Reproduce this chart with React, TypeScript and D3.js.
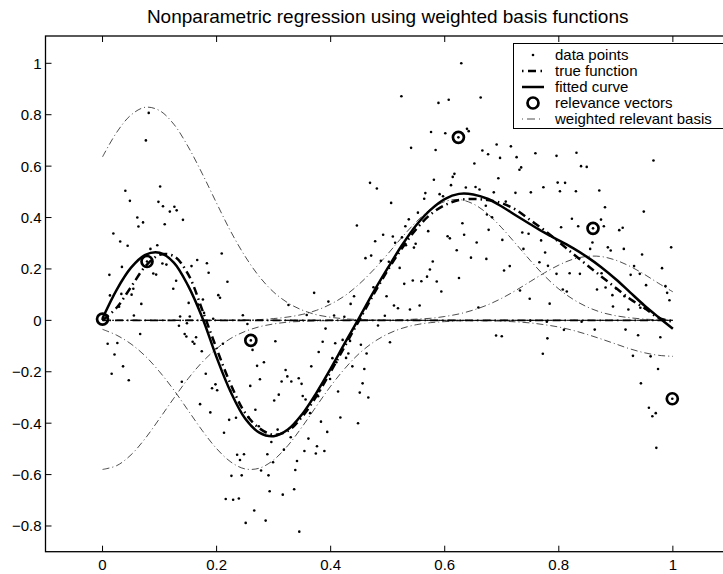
import React from "react";
import * as d3 from "d3";

const titleText = "Nonparametric regression using weighted basis functions";
const xTicks = [0, 0.2, 0.4, 0.6, 0.8, 1];
const yTicks = [-0.8, -0.6, -0.4, -0.2, 0, 0.2, 0.4, 0.6, 0.8, 1];

const gridX = [0, 0.025, 0.05, 0.075, 0.1, 0.125, 0.15, 0.175, 0.2, 0.225, 0.25, 0.275, 0.3, 0.325, 0.35, 0.375, 0.4, 0.425, 0.45, 0.475, 0.5, 0.525, 0.55, 0.575, 0.6, 0.625, 0.65, 0.675, 0.7, 0.725, 0.75, 0.775, 0.8, 0.825, 0.85, 0.875, 0.9, 0.925, 0.95, 0.975, 1];

const fittedY = [0.008, 0.12, 0.205, 0.255, 0.263, 0.225, 0.135, 0.01, -0.144, -0.28, -0.382, -0.437, -0.451, -0.425, -0.365, -0.282, -0.188, -0.088, 0.01, 0.11, 0.203, 0.292, 0.37, 0.43, 0.472, 0.492, 0.49, 0.473, 0.443, 0.408, 0.374, 0.341, 0.311, 0.281, 0.246, 0.206, 0.16, 0.109, 0.058, 0.012, -0.033];

const trueY = [0, 0.05, 0.13, 0.21, 0.255, 0.25, 0.18, 0.04, -0.11, -0.25, -0.36, -0.42, -0.445, -0.43, -0.375, -0.295, -0.2, -0.1, 0, 0.1, 0.195, 0.28, 0.355, 0.412, 0.448, 0.468, 0.472, 0.468, 0.456, 0.43, 0.39, 0.35, 0.305, 0.259, 0.214, 0.17, 0.126, 0.083, 0.048, 0.01, -0.005];

const basis0Y = [-0.58, -0.565, -0.523, -0.459, -0.382, -0.303, -0.227, -0.162, -0.11, -0.07, -0.043, -0.025, -0.014, -0.007, -0.004, -0.002, -0.001, 0, 0, 0, 0, 0, 0, 0, 0, 0, 0, 0, 0, 0, 0, 0, 0, 0, 0, 0, 0, 0, 0, 0, 0];
const basis1Y = [0.636, 0.732, 0.799, 0.829, 0.816, 0.763, 0.676, 0.57, 0.456, 0.345, 0.249, 0.17, 0.11, 0.068, 0.04, 0.022, 0.012, 0.006, 0.003, 0.001, 0, 0, 0, 0, 0, 0, 0, 0, 0, 0, 0, 0, 0, 0, 0, 0, 0, 0, 0, 0, 0];
const basis2Y = [-0.035, -0.058, -0.092, -0.139, -0.2, -0.271, -0.35, -0.429, -0.499, -0.551, -0.578, -0.575, -0.543, -0.487, -0.414, -0.334, -0.256, -0.187, -0.129, -0.085, -0.053, -0.031, -0.017, -0.009, -0.005, -0.002, -0.001, 0, 0, 0, 0, 0, 0, 0, 0, 0, 0, 0, 0, 0, 0];
const basis3Y = [0, 0, 0, 0, 0, 0, 0, 0, 0, 0.001, 0.002, 0.003, 0.007, 0.013, 0.023, 0.039, 0.063, 0.096, 0.141, 0.196, 0.258, 0.323, 0.383, 0.432, 0.462, 0.47, 0.453, 0.415, 0.36, 0.297, 0.233, 0.173, 0.122, 0.082, 0.052, 0.031, 0.018, 0.01, 0.005, 0.002, 0.001];
const basis4Y = [0, 0, 0, 0, 0, 0, 0, 0, 0, 0, 0, 0, 0, 0, 0, 0, 0, 0, 0, 0.001, 0.001, 0.002, 0.005, 0.008, 0.015, 0.025, 0.04, 0.06, 0.086, 0.117, 0.151, 0.185, 0.215, 0.238, 0.249, 0.248, 0.234, 0.21, 0.179, 0.144, 0.111];
const basis5Y = [0, 0, 0, 0, 0, 0, 0, 0, 0, 0, 0, 0, 0, 0, 0, 0, 0, 0, 0, 0, 0, 0, 0, 0, 0, 0, -0.001, -0.002, -0.003, -0.006, -0.01, -0.017, -0.026, -0.039, -0.055, -0.073, -0.092, -0.111, -0.126, -0.136, -0.14];

const zeroLineX = [0, 1];
const zeroLineY = [0, 0];

const rvX = [0, 0.078, 0.26, 0.624, 0.86, 0.999];
const rvY = [0.005, 0.229, -0.078, 0.712, 0.358, -0.305];

const dataX = [0.081, 0.076, 0.101, 0.04, 0.048, 0.098, 0.106, 0.126, 0.13, 0.118, 0.141, 0.061, 0.071, 0.063, 0.109, 0.019, 0.031, 0.044, 0.096, 0.084,
  0.209, 0.166, 0.183, 0.156, 0.034, 0.105, 0.112, 0.186, 0.089, 0.094, 0.012, 0.129, 0.219, 0.054, 0.124, 0.051, 0.013, 0.033, 0.203, 0.206,
  0.176, 0.151, 0.068, 0.168, 0.029, 0.178, 0.055, 0.136, 0.153, 0.194, 0.246, 0.148, 0.134, 0.254, 0.066, 0.144, 0.147, 0.164, 0.158, 0.161,
  0.009, 0.026, 0.211, 0.303, 0.263, 0.021, 0.174, 0.283, 0.271, 0.036, 0.016, 0.181, 0.276, 0.046, 0.139, 0.198, 0.192, 0.201, 0.259, 0.224,
  0.309, 0.301, 0.171, 0.268, 0.189, 0.234, 0.222, 0.256, 0.274, 0.213, 0.307, 0.296, 0.289, 0.236, 0.248, 0.241, 0.299, 0.278, 0.226, 0.244,
  0.291, 0.293, 0.216, 0.229, 0.239, 0.266, 0.251, 0.286, 0.629, 0.524, 0.589, 0.607, 0.663, 0.576, 0.601, 0.639, 0.642, 0.541, 0.584, 0.666,
  0.676, 0.652, 0.617, 0.614, 0.581, 0.469, 0.481, 0.611, 0.637, 0.654, 0.661, 0.566, 0.564, 0.591, 0.597, 0.506, 0.674, 0.672, 0.553, 0.631,
  0.446, 0.677, 0.531, 0.537, 0.571, 0.492, 0.509, 0.525, 0.605, 0.609, 0.634, 0.478, 0.513, 0.532, 0.549, 0.546, 0.656, 0.621, 0.471, 0.461,
  0.646, 0.488, 0.502, 0.579, 0.521, 0.574, 0.569, 0.559, 0.544, 0.586, 0.625, 0.529, 0.475, 0.594, 0.371, 0.396, 0.435, 0.441, 0.498, 0.326,
  0.511, 0.518, 0.539, 0.556, 0.659, 0.358, 0.406, 0.424, 0.495, 0.391, 0.483, 0.386, 0.408, 0.421, 0.434, 0.504, 0.453, 0.379, 0.463, 0.431,
  0.427, 0.403, 0.41, 0.366, 0.438, 0.459, 0.321, 0.324, 0.314, 0.331, 0.344, 0.349, 0.399, 0.456, 0.351, 0.356, 0.38, 0.378, 0.451, 0.466,
  0.413, 0.364, 0.417, 0.383, 0.448, 0.394, 0.361, 0.33, 0.376, 0.354, 0.374, 0.389, 0.318, 0.341, 0.338, 0.336, 0.316, 0.345, 0.691, 0.716,
  0.697, 0.726, 0.759, 0.796, 0.831, 0.966, 0.731, 0.734, 0.839, 0.849, 0.694, 0.798, 0.811, 0.773, 0.686, 0.724, 0.751, 0.802, 0.83, 0.871,
  0.707, 0.881, 0.949, 0.683, 0.823, 0.874, 0.804, 0.834, 0.879, 0.906, 0.912, 0.736, 0.747, 0.784, 0.701, 0.859, 0.769, 0.997, 0.738, 0.855,
  0.886, 0.891, 0.914, 0.946, 0.776, 0.673, 0.766, 0.781, 0.714, 0.704, 0.796, 0.819, 0.837, 0.875, 0.926, 0.932, 0.942, 0.981, 0.953, 0.987,
  0.732, 0.807, 0.814, 0.867, 0.882, 0.901, 0.99, 0.749, 0.894, 0.915, 0.784, 0.994, 0.895, 0.922, 0.943, 0.952, 0.75, 0.779, 0.84, 0.809,
  0.863, 0.917, 0.69, 0.7, 0.78, 0.939, 0.978, 0.772, 0.93, 0.961, 0.974, 0.944, 0.958, 0.97, 0.964, 0.971,
  0, 0.078, 0.26, 0.624, 0.86, 0.999];

const dataY = [0.807, 0.7, 0.521, 0.504, 0.465, 0.461, 0.444, 0.442, 0.428, 0.423, 0.391, 0.4, 0.381, 0.365, 0.374, 0.338, 0.307, 0.29, 0.292, 0.278,
  0.26, 0.235, 0.222, 0.211, 0.208, 0.221, 0.217, 0.185, 0.182, 0.178, 0.177, 0.154, 0.15, 0.123, 0.123, 0.1, 0.097, 0.103, 0.098, 0.088,
  0.081, 0.068, 0.064, 0.061, 0.053, 0.029, 0.019, 0.015, 0.015, 0.006, 0.02, -0.011, -0.021, -0.014, -0.053, -0.053, -0.063, -0.066, -0.083, -0.091,
  -0.091, -0.088, -0.091, -0.081, -0.115, -0.133, -0.12, -0.163, -0.177, -0.179, -0.208, -0.208, -0.229, -0.233, -0.239, -0.249, -0.264, -0.272, -0.255, -0.273,
  -0.289, -0.312, -0.326, -0.348, -0.358, -0.379, -0.387, -0.377, -0.412, -0.437, -0.425, -0.473, -0.521, -0.523, -0.521, -0.543, -0.552, -0.584, -0.605, -0.603,
  -0.603, -0.665, -0.695, -0.698, -0.693, -0.74, -0.788, -0.779, 1.0, 0.872, 0.846, 0.858, 0.867, 0.733, 0.728, 0.745, 0.736, 0.671, 0.663, 0.661,
  0.646, 0.61, 0.57, 0.558, 0.547, 0.535, 0.513, 0.526, 0.517, 0.519, 0.509, 0.495, 0.473, 0.491, 0.483, 0.457, 0.412, 0.446, 0.419, 0.378,
  0.369, 0.352, 0.366, 0.393, 0.347, 0.333, 0.326, 0.323, 0.327, 0.319, 0.333, 0.308, 0.302, 0.292, 0.298, 0.283, 0.303, 0.273, 0.252, 0.242,
  0.244, 0.232, 0.228, 0.229, 0.204, 0.198, 0.17, 0.152, 0.155, 0.151, 0.165, 0.142, 0.129, 0.112, 0.107, 0.073, 0.064, 0.094, 0.094, 0.06,
  0.058, 0.047, 0.042, 0.058, 0.05, 0.021, 0.019, 0.014, 0.018, -0.032, -0.02, -0.083, -0.089, -0.076, -0.08, -0.085, -0.095, -0.123, -0.129, -0.129,
  -0.146, -0.147, -0.163, -0.179, -0.179, -0.189, -0.193, -0.218, -0.238, -0.238, -0.225, -0.247, -0.228, -0.245, -0.294, -0.308, -0.276, -0.295, -0.281, -0.3,
  -0.277, -0.361, -0.378, -0.394, -0.4, -0.434, -0.46, -0.455, -0.49, -0.508, -0.518, -0.508, -0.503, -0.547, -0.582, -0.657, -0.678, -0.822, 0.684, 0.677,
  0.632, 0.635, 0.65, 0.64, 0.652, 0.622, 0.586, 0.595, 0.6, 0.597, 0.553, 0.536, 0.535, 0.518, 0.498, 0.496, 0.498, 0.502, 0.502, 0.505,
  0.462, 0.44, 0.423, 0.401, 0.395, 0.392, 0.362, 0.366, 0.366, 0.351, 0.36, 0.342, 0.337, 0.331, 0.313, 0.303, 0.311, 0.284, 0.278, 0.278,
  0.284, 0.272, 0.278, 0.256, 0.264, 0.239, 0.226, 0.212, 0.211, 0.194, 0.181, 0.183, 0.181, 0.183, 0.177, 0.211, 0.181, 0.203, 0.137, 0.133,
  0.116, 0.12, 0.112, 0.12, 0.128, 0.123, 0.107, 0.084, 0.098, 0.094, 0.065, 0.078, 0.054, 0.042, 0.049, 0.045, -0.001, -0.005, -0.005, -0.037,
  -0.036, -0.036, -0.059, -0.062, -0.07, -0.058, -0.066, -0.13, -0.138, -0.14, -0.189, -0.245, -0.34, -0.361, -0.373, -0.496,
  0.005, 0.229, -0.078, 0.712, 0.358, -0.305];

const legendLabels = ["data points", "true function", "fitted curve", "relevance vectors", "weighted relevant basis"];

const FONT = "'Liberation Sans', Arial, Helvetica, sans-serif";
const W = 723;
const H = 574;
const LEFT = 45.5;
const RIGHT = 729.9;
const TOP = 36;
const BOTTOM = 551.7;
const TRUE_DASH = "8,4,1.5,4";
const BASIS_DASH = "7,3,1,3";

export default function App() {
  const x = d3.scaleLinear().domain([-0.1, 1.1]).range([LEFT, RIGHT]);
  const y = d3.scaleLinear().domain([-0.9, 1.1]).range([BOTTOM, 37.6]);
  const fmt = d3.format("~g");

  const curve = (ys: number[], xs: number[] = gridX) =>
    d3
      .line<number>()
      .x((_, i) => x(xs[i]))
      .y((d) => y(d))
      .curve(d3.curveCatmullRom)(ys) || "";

  const basisList = [basis0Y, basis1Y, basis2Y, basis3Y, basis4Y, basis5Y];

  const legX = 513.5;
  const legY = 43.5;
  const rowY = (i: number) => 55 + i * 16;
  const sx0 = 522;
  const sx1 = 544;
  const mx = 533;
  const tx = 555;

  return (
    <div style={{ position: "absolute", left: 0, top: 0 }}>
      <svg width={W} height={H} style={{ display: "block", background: "#fff" }} fontFamily={FONT}>
        <rect x={0} y={0} width={W} height={H} fill="#fff" />
        <defs>
          <clipPath id="plotclip">
            <rect x={LEFT} y={TOP} width={RIGHT - LEFT} height={BOTTOM - TOP} />
          </clipPath>
        </defs>
        <text x={(LEFT + RIGHT) / 2} y={23} textAnchor="middle" fontSize={19} fill="#000">
          {titleText}
        </text>

        <g clipPath="url(#plotclip)">
          {basisList.map((b, k) => (
            <path key={k} d={curve(b)} fill="none" stroke="#000" strokeWidth={0.7} strokeDasharray={BASIS_DASH} />
          ))}
          <path d={curve(zeroLineY, zeroLineX)} fill="none" stroke="#000" strokeWidth={0.7} strokeDasharray={BASIS_DASH} />
          <path d={curve(zeroLineY, zeroLineX)} fill="none" stroke="#000" strokeWidth={1.8} strokeDasharray={TRUE_DASH} strokeDashoffset={5} />
          {dataX.map((dx, i) => (
            <circle key={i} cx={x(dx)} cy={y(dataY[i])} r={1.3} fill="#000" />
          ))}
          <path d={curve(trueY)} fill="none" stroke="#000" strokeWidth={2.5} strokeDasharray={TRUE_DASH} />
          <path d={curve(fittedY)} fill="none" stroke="#000" strokeWidth={2.5} />
          {rvX.map((rx, i) => (
            <circle key={i} cx={x(rx)} cy={y(rvY[i])} r={5.5} fill="none" stroke="#000" strokeWidth={2.7} />
          ))}
        </g>

        {/* axes box */}
        <rect x={LEFT} y={TOP} width={RIGHT - LEFT} height={BOTTOM - TOP} fill="none" stroke="#000" strokeWidth={1.3} />

        {xTicks.map((t) => (
          <g key={"xt" + t}>
            <line x1={x(t)} x2={x(t)} y1={BOTTOM} y2={BOTTOM - 6} stroke="#000" strokeWidth={1} />
            <line x1={x(t)} x2={x(t)} y1={TOP} y2={TOP + 6} stroke="#000" strokeWidth={1} />
            <text x={x(t)} y={570} textAnchor="middle" fontSize={15} fill="#000">
              {fmt(t)}
            </text>
          </g>
        ))}
        {yTicks.map((t) => (
          <g key={"yt" + t}>
            <line x1={LEFT} x2={LEFT + 6} y1={y(t)} y2={y(t)} stroke="#000" strokeWidth={1} />
            <text x={41.5} y={y(t)} dy="0.36em" textAnchor="end" fontSize={15} fill="#000">
              {fmt(t)}
            </text>
          </g>
        ))}

        {/* legend */}
        <rect x={legX} y={legY} width={212} height={85} fill="#fff" stroke="#000" strokeWidth={1} />
        <circle cx={mx} cy={rowY(0)} r={1.3} fill="#000" />
        <line x1={sx0} x2={sx1} y1={rowY(1)} y2={rowY(1)} stroke="#000" strokeWidth={2.5} strokeDasharray="1.5,4.5,8,4.5" />
        <line x1={sx0} x2={sx1} y1={rowY(2)} y2={rowY(2)} stroke="#000" strokeWidth={2.5} />
        <circle cx={mx} cy={rowY(3)} r={5.5} fill="none" stroke="#000" strokeWidth={2.7} />
        <line x1={sx0} x2={sx1} y1={rowY(4)} y2={rowY(4)} stroke="#000" strokeWidth={0.7} strokeDasharray="1,4,8,4" />
        {legendLabels.map((l, i) => (
          <text key={l} x={tx} y={rowY(i)} dy="0.36em" fontSize={15} fill="#000">
            {l}
          </text>
        ))}
      </svg>
    </div>
  );
}
